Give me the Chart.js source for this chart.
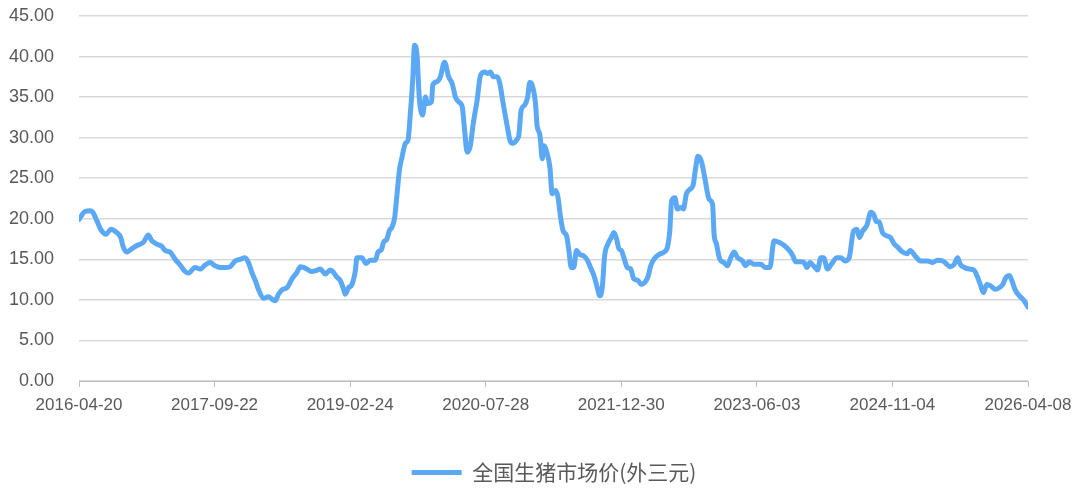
<!DOCTYPE html>
<html>
<head>
<meta charset="utf-8">
<script src="https://cdn.jsdelivr.net/npm/chart.js@4/dist/chart.umd.min.js"></script>
<style>
  html, body { margin: 0; padding: 0; background: #fff; }
</style>
</head>
<body>
<canvas id="chart" width="1080" height="493"></canvas>
<script>
const seriesName = '全国生猪市场价(外三元)';

// x axis tick labels (every 520 days)
const tickLabels = ['2016-04-20', '2017-09-22', '2019-02-24', '2020-07-28',
  '2021-12-30', '2023-06-03', '2024-11-04', '2026-04-08'];

// days since 2016-04-20
const days = [
  0, 23, 45, 53, 68, 83, 104, 122, 145, 160, 170, 183, 202, 222, 247, 266, 279, 304, 318, 330,
  349, 369, 388, 407, 420, 445, 465, 484, 503, 522, 541, 561, 580, 599, 618, 637, 650, 663, 676, 688,
  708, 727, 740, 753, 765, 781, 798, 817, 836, 849, 861, 874, 891, 909, 925, 945, 964, 976, 989, 1002,
  1015, 1021, 1034, 1047, 1060, 1066, 1085, 1101, 1117, 1137, 1147, 1160, 1168, 1181, 1190, 1201, 1211, 1220, 1229, 1239,
  1252, 1262, 1271, 1280, 1287, 1297, 1305, 1318, 1329, 1337, 1352, 1357, 1373, 1386, 1402, 1418, 1431, 1444, 1457, 1470,
  1478, 1489, 1501, 1512, 1527, 1540, 1556, 1568, 1578, 1589, 1604, 1614, 1627, 1642, 1655, 1665, 1678, 1687, 1696, 1709,
  1721, 1729, 1738, 1751, 1757, 1768, 1777, 1783, 1796, 1806, 1815, 1828, 1837, 1847, 1857, 1870, 1879, 1888, 1898, 1908,
  1921, 1937, 1950, 1962, 1975, 1988, 1998, 2007, 2016, 2029, 2042, 2052, 2062, 2071, 2080, 2090, 2103, 2116, 2128, 2144,
  2157, 2171, 2182, 2193, 2205, 2225, 2244, 2257, 2266, 2273, 2286, 2295, 2308, 2318, 2330, 2342, 2355, 2365, 2374, 2388,
  2401, 2417, 2430, 2436, 2445, 2458, 2474, 2487, 2500, 2513, 2526, 2545, 2557, 2570, 2589, 2615, 2632, 2650, 2666, 2685,
  2705, 2724, 2737, 2749, 2769, 2781, 2792, 2804, 2817, 2833, 2845, 2856, 2871, 2886, 2907, 2922, 2938, 2954, 2971, 2984,
  2993, 3006, 3022, 3037, 3050, 3057, 3069, 3082, 3099, 3112, 3127, 3140, 3159, 3176, 3188, 3210, 3229, 3255, 3274, 3293,
  3313, 3325, 3342, 3357, 3370, 3380, 3396, 3415, 3432, 3444, 3457, 3469, 3482, 3498, 3514, 3530, 3543, 3556, 3568, 3578,
  3590, 3607, 3620, 3629, 3640
];

const prices = [
  19.9, 20.9, 21.0, 20.8, 19.8, 18.7, 18.1, 18.7, 18.3, 17.7, 16.5, 15.9, 16.3, 16.7, 17.1, 18.0, 17.3, 16.8, 16.6, 16.1,
  15.9, 15.0, 14.3, 13.5, 13.3, 14.0, 13.8, 14.3, 14.6, 14.2, 14.0, 14.0, 14.1, 14.8, 15.0, 15.2, 14.6, 13.4, 12.4, 11.3,
  10.2, 10.4, 10.1, 9.9, 10.7, 11.3, 11.5, 12.6, 13.4, 14.1, 14.0, 13.8, 13.5, 13.6, 13.8, 13.2, 13.7, 13.4, 12.8, 12.4,
  11.3, 10.7, 11.5, 11.9, 13.6, 15.2, 15.2, 14.5, 14.9, 14.9, 15.9, 16.2, 17.1, 17.5, 18.5, 19.0, 20.2, 23.1, 26.0, 27.6,
  29.3, 29.7, 33.0, 37.1, 41.4, 40.0, 35.0, 32.8, 35.0, 34.2, 34.4, 36.5, 36.9, 37.5, 39.3, 37.5, 36.7, 35.0, 34.4, 33.8,
  31.3, 28.2, 29.0, 31.7, 34.6, 37.7, 38.1, 37.9, 38.1, 37.5, 37.5, 36.7, 34.2, 31.5, 29.5, 29.3, 29.7, 30.3, 33.4, 34.0,
  35.0, 36.8, 36.5, 34.2, 31.5, 30.3, 27.4, 29.0, 28.0, 26.4, 23.1, 23.5, 22.7, 20.2, 18.5, 17.9, 16.1, 14.0, 14.0, 16.1,
  15.6, 15.4, 14.9, 14.0, 13.0, 11.5, 10.5, 11.5, 15.4, 16.9, 17.7, 18.3, 17.5, 16.3, 16.1, 15.2, 14.0, 13.8, 12.6, 12.4,
  11.9, 12.2, 12.8, 14.2, 15.0, 15.6, 15.9, 16.5, 18.5, 22.2, 22.6, 21.2, 21.4, 21.2, 23.1, 23.6, 24.1, 26.2, 27.7, 27.0,
  24.9, 22.4, 21.8, 18.1, 16.9, 15.0, 14.6, 14.2, 15.2, 15.9, 15.2, 14.8, 14.2, 14.7, 14.4, 14.4, 14.0, 14.0, 17.3, 17.1,
  16.7, 16.1, 15.5, 14.7, 14.7, 14.6, 14.0, 14.6, 14.2, 13.7, 15.2, 15.2, 13.8, 14.4, 15.2, 15.2, 14.8, 15.2, 18.5, 18.7,
  17.7, 18.5, 19.2, 20.8, 20.4, 19.7, 19.6, 18.3, 17.9, 17.7, 16.9, 16.5, 15.9, 15.7, 16.1, 15.3, 14.8, 14.8, 14.6, 14.9,
  14.8, 14.5, 14.1, 14.4, 15.2, 14.4, 14.0, 13.8, 13.7, 13.0, 11.9, 10.9, 11.9, 11.7, 11.3, 11.5, 11.9, 12.8, 13.0, 12.4,
  11.3, 10.5, 10.1, 9.7, 9.1
];

const DAY = 86400000;
const t0 = Date.parse(tickLabels[0]);
const tickDays = tickLabels.map(s => Math.round((Date.parse(s) - t0) / DAY));

const textColor = '#595959';
const lineColor = '#5BA8F5';

// the legend in the original sits a bit right of centre
const legendShift = {
  id: 'legendShift',
  afterLayout(chart) {
    chart.legend.left += 14;
    chart.legend.right += 14;
  }
};

new Chart(document.getElementById('chart').getContext('2d'), {
  type: 'line',
  data: {
    datasets: [{
      label: seriesName,
      data: days.map((d, i) => ({ x: d, y: prices[i] })),
      borderColor: lineColor,
      backgroundColor: lineColor,
      borderWidth: 5,
      pointRadius: 0,
      tension: 0.3,
      cubicInterpolationMode: 'monotone',
      borderJoinStyle: 'round',
      borderCapStyle: 'round'
    }]
  },
  options: {
    responsive: false,
    animation: false,
    layout: { padding: 0 },
    scales: {
      x: {
        type: 'linear',
        min: tickDays[0],
        max: tickDays[tickDays.length - 1],
        afterBuildTicks: scale => { scale.ticks = tickDays.map(v => ({ value: v })); },
        afterFit: scale => { scale.height = 71; scale.paddingRight = 52; },
        grid: { drawOnChartArea: false, drawTicks: true, tickLength: 6, color: '#bfbfbf' },
        border: { color: '#bfbfbf', width: 1 },
        ticks: {
          autoSkip: false,
          maxRotation: 0,
          padding: 8,
          color: textColor,
          font: { family: 'Liberation Sans', size: 17 },
          callback: v => tickLabels[tickDays.indexOf(v)]
        }
      },
      y: {
        min: 0,
        max: 45,
        afterFit: scale => { scale.width = 79; scale.paddingTop = 16; scale.paddingBottom = 0; },
        grid: { color: '#d9d9d9', lineWidth: 1.5, drawTicks: false },
        border: { display: false },
        ticks: {
          stepSize: 5,
          padding: 25,
          color: textColor,
          font: { family: 'Liberation Sans', size: 18 },
          callback: v => v.toFixed(2)
        }
      }
    },
    plugins: {
      legend: {
        position: 'bottom',
        labels: {
          usePointStyle: true,
          pointStyle: 'line',
          pointStyleWidth: 50,
          padding: 10,
          color: textColor,
          font: { family: 'Noto Sans CJK SC', size: 21 }
        }
      },
      tooltip: { enabled: false }
    }
  },
  plugins: [legendShift]
});
</script>
</body>
</html>
